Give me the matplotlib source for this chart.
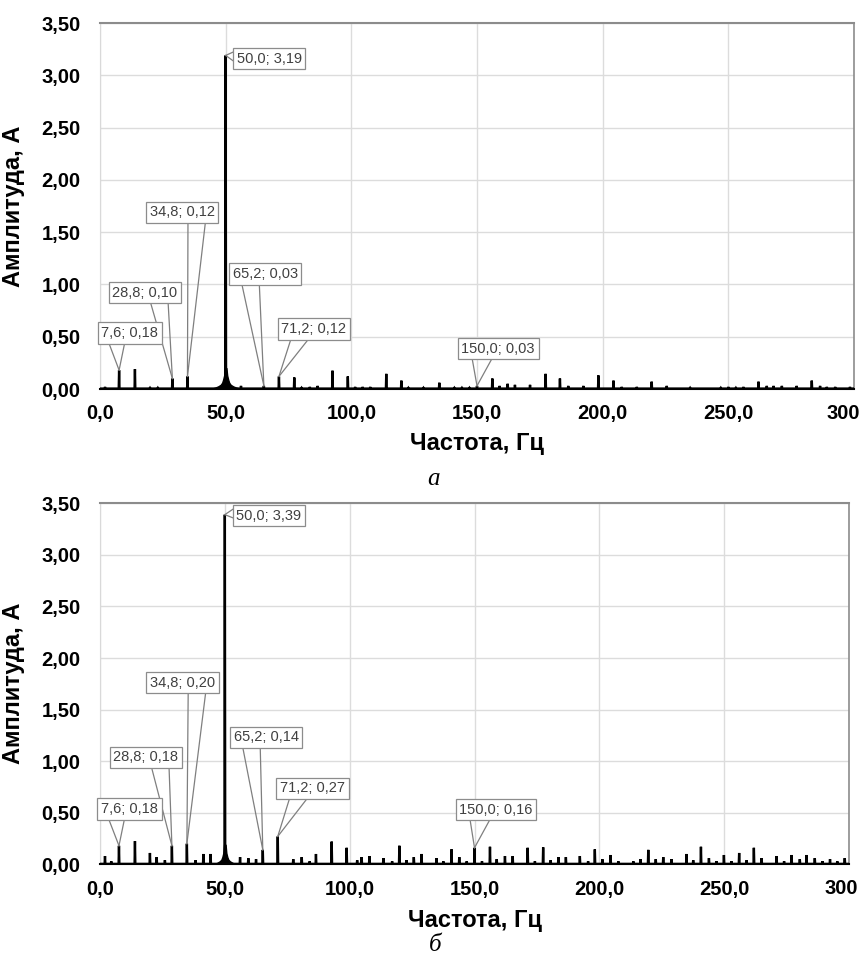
import numpy as np
import matplotlib
matplotlib.use("Agg")
import matplotlib.pyplot as plt
from matplotlib.ticker import FuncFormatter, MultipleLocator

plt.rcParams['font.family'] = ['Liberation Sans', 'DejaVu Sans']

# ---- данные: спектр (а) ----
freq_a = [2.0, 7.6, 13.9, 19.9, 23.0, 28.8, 34.8, 50.0, 56.1, 65.2, 71.2, 77.3, 80.2,
          83.5, 86.6, 92.5, 98.6, 101.5, 104.5, 107.5, 113.9, 119.9, 122.7, 128.7,
          135.0, 141.0, 144.0, 147.0, 150.0, 156.1, 159.0, 162.2, 165.1, 171.1, 177.3,
          183.0, 186.3, 192.3, 198.3, 204.3, 207.6, 213.6, 219.5, 225.5, 234.8, 247.0,
          250.0, 253.0, 256.0, 262.0, 265.3, 268.0, 271.3, 277.2, 283.2, 286.5, 289.2,
          292.5, 298.4]
amp_a = [0.02, 0.18, 0.19, 0.01, 0.01, 0.10, 0.12, 3.19, 0.03, 0.03, 0.12, 0.11, 0.01,
         0.02, 0.03, 0.175, 0.12, 0.02, 0.02, 0.02, 0.145, 0.08, 0.01, 0.01,
         0.06, 0.01, 0.01, 0.01, 0.03, 0.10, 0.03, 0.05, 0.04, 0.04, 0.145,
         0.10, 0.03, 0.03, 0.13, 0.08, 0.02, 0.02, 0.07, 0.03, 0.01, 0.01,
         0.02, 0.01, 0.02, 0.07, 0.03, 0.03, 0.03, 0.03, 0.08, 0.03, 0.02,
         0.02, 0.02]

# ---- данные: спектр (б) ----
freq_b = [2.0, 4.5, 7.6, 14.0, 20.0, 22.7, 26.0, 28.8, 34.8, 38.3, 41.4, 44.3, 50.0,
          56.1, 59.4, 62.5, 65.2, 71.2, 77.4, 80.8, 84.0, 86.5, 92.8, 98.8, 103.0,
          104.8, 107.9, 113.5, 117.0, 119.9, 122.8, 125.7, 128.8, 134.8, 137.5, 140.8,
          143.9, 146.9, 150.0, 153.0, 156.2, 158.9, 162.2, 165.3, 171.3, 174.2, 177.5,
          180.5, 183.6, 186.6, 192.2, 195.5, 198.2, 201.2, 204.5, 207.6, 213.6, 216.5,
          219.6, 222.6, 225.6, 228.9, 234.9, 237.6, 240.7, 243.9, 246.9, 249.9, 252.9,
          256.0, 259.0, 261.9, 265.0, 271.0, 274.0, 277.0, 280.3, 283.0, 286.3, 289.4,
          292.4, 295.3, 298.3]
amp_b = [0.08, 0.03, 0.18, 0.225, 0.11, 0.07, 0.04, 0.18, 0.20, 0.04, 0.10, 0.10, 3.39,
         0.07, 0.06, 0.05, 0.14, 0.27, 0.05, 0.07, 0.03, 0.10, 0.22, 0.16, 0.04,
         0.07, 0.08, 0.06, 0.03, 0.18, 0.04, 0.07, 0.10, 0.06, 0.03, 0.145,
         0.07, 0.03, 0.16, 0.03, 0.17, 0.05, 0.08, 0.08, 0.16, 0.03, 0.165,
         0.04, 0.07, 0.07, 0.08, 0.03, 0.145, 0.05, 0.09, 0.03, 0.03, 0.05,
         0.14, 0.05, 0.07, 0.05, 0.10, 0.04, 0.17, 0.06, 0.03, 0.09, 0.03,
         0.11, 0.04, 0.16, 0.06, 0.08, 0.03, 0.09, 0.05, 0.09, 0.06, 0.03,
         0.05, 0.03, 0.06]

# растекание спектра вокруг 50 Гц (огибающая)
leak_f = [44.0, 46.0, 47.0, 48.0, 48.6, 49.0, 49.4, 49.7, 50.3, 50.6, 51.0, 51.4, 52.0, 53.0, 54.0, 56.0]
leak_a = [0.0, 0.015, 0.025, 0.04, 0.06, 0.09, 0.13, 0.20, 0.20, 0.13, 0.09, 0.06, 0.04, 0.025, 0.015, 0.0]
leak_b = [0.0, 0.005, 0.015, 0.03, 0.045, 0.07, 0.11, 0.19, 0.19, 0.11, 0.07, 0.045, 0.03, 0.015, 0.005, 0.0]

# подписанные точки
ann_f = [7.6, 28.8, 34.8, 50.0, 65.2, 71.2, 150.0]
ann_a_top = [0.18, 0.10, 0.12, 3.19, 0.03, 0.12, 0.03]
ann_a_bot = [0.18, 0.18, 0.20, 3.39, 0.14, 0.27, 0.16]

# положения выносок (центры рамок)
box_top = [(11.8, 0.535), (17.9, 0.92), (32.7, 1.69), (67.3, 3.16), (65.7, 1.10), (85.1, 0.574), (158.4, 0.387)]
box_bot = [(11.8, 0.536), (18.4, 1.036), (33.0, 1.76), (67.7, 3.38), (66.5, 1.23), (85.1, 0.735), (158.6, 0.53)]

W, H = 861, 956
fig = plt.figure(figsize=(W / 100, H / 100), dpi=100)
ax1 = fig.add_axes([100 / W, 1 - 389 / H, 754 / W, 366 / H])
ax2 = fig.add_axes([100 / W, 1 - 864.3 / H, 749 / W, 361 / H])


def xfmt(v, p):
    if v >= 300:
        return ""
    return f"{v:.1f}".replace('.', ',')


comma1 = FuncFormatter(xfmt)
comma2 = FuncFormatter(lambda v, p: f"{v:.2f}".replace('.', ','))


def spikes(freqs, amps, base=0.004, hw=0.15):
    xs, ys = [0.0], [base]
    for f, a in sorted(zip(freqs, amps)):
        xs += [f - hw, f, f + hw]
        ys += [base, a, base]
    xs.append(300.0)
    ys.append(base)
    return xs, ys


callouts = []


def draw_panel(ax, freqs, amps, leak, ann_a, boxes, ylab_y, shift):
    x, y = spikes(freqs, amps)
    ax.plot(x, y, color='black', lw=1.7, zorder=3, solid_joinstyle='miter')
    ax.fill_between(leak_f, 0, leak, color='black', lw=1.0, zorder=3)
    ax.set_xlim(0, 300)
    ax.set_ylim(0, 3.5)
    ax.xaxis.set_major_locator(MultipleLocator(50))
    ax.yaxis.set_major_locator(MultipleLocator(0.5))
    ax.xaxis.set_major_formatter(comma1)
    ax.yaxis.set_major_formatter(comma2)
    ax.grid(True, color='#dcdcdc', lw=1.0)
    ax.set_axisbelow(True)
    ax.tick_params(length=0, labelsize=14.5)
    ax.tick_params(axis='y', pad=14)
    ax.tick_params(axis='x', pad=11)
    for lab in ax.get_xticklabels() + ax.get_yticklabels():
        lab.set_fontweight('bold')
    # крайняя подпись "300" у правого края рисунка
    ax.annotate("300", xy=(300, 0), xycoords=('data', 'axes fraction'),
                xytext=(shift, -15), textcoords='offset pixels', ha='right', va='top',
                fontsize=14.5, fontweight='bold', annotation_clip=False)
    ax.spines['top'].set_color('#8c8c8c')
    ax.spines['top'].set_linewidth(1.5)
    ax.spines['right'].set_color('#8c8c8c')
    ax.spines['right'].set_linewidth(1.2)
    ax.spines['left'].set_color('#d9d9d9')
    ax.spines['bottom'].set_color('black')
    ax.spines['bottom'].set_linewidth(1.5)
    ax.set_ylabel('Амплитуда, А', fontsize=17, fontweight='bold')
    ax.yaxis.set_label_coords(-75 / 754, 0.5)
    ax.set_xlabel('Частота, Гц', fontsize=17, fontweight='bold', va='center')
    ax.xaxis.set_label_coords(0.5, ylab_y)
    for f, a, (bx, by) in zip(ann_f, ann_a, boxes):
        txt = f"{f:.1f}; {a:.2f}".replace('.', ',')
        t = ax.text(bx, by, txt, ha='center', va='center', fontsize=10.5, color='#404040',
                    bbox=dict(boxstyle='square,pad=0.25', fc='white', ec='#8c8c8c', lw=0.9),
                    zorder=6)
        callouts.append((ax, t, f, a))


draw_panel(ax1, freq_a, amp_a, leak_a, ann_a_top, box_top, -0.148, 6)
draw_panel(ax2, freq_b, amp_b, leak_b, ann_a_bot, box_bot, -0.155, 9)

fig.text(433 / W, 1 - 479 / H, 'а', fontsize=18, style='italic', family='Liberation Serif',
         ha='center', va='center')
fig.text(435 / W, 1 - 945 / H, 'б', fontsize=18, style='italic', family='Liberation Serif',
         ha='center', va='center')

# линии-указатели выносок
fig.canvas.draw()
r = fig.canvas.get_renderer()
for ax, t, f, a in callouts:
    bb = t.get_bbox_patch().get_window_extent(r)
    inv = ax.transData.inverted()
    px, py = ax.transData.transform((f, a))
    if bb.y0 <= py <= bb.y1:
        # точка сбоку от рамки
        p1 = inv.transform((bb.x0, bb.y1 - 0.2 * bb.height))
        p2 = inv.transform((bb.x0, bb.y1 - 0.6 * bb.height))
    else:
        cx = 0.5 * (bb.x0 + bb.x1)
        fr = (0.18, 0.42) if px <= cx else (0.58, 0.82)
        p1 = inv.transform((bb.x0 + fr[0] * bb.width, bb.y0))
        p2 = inv.transform((bb.x0 + fr[1] * bb.width, bb.y0))
    for p in (p1, p2):
        ax.plot([p[0], f], [p[1], a], color='#7f7f7f', lw=0.9, zorder=5)

fig.savefig('out.png', dpi=100)
